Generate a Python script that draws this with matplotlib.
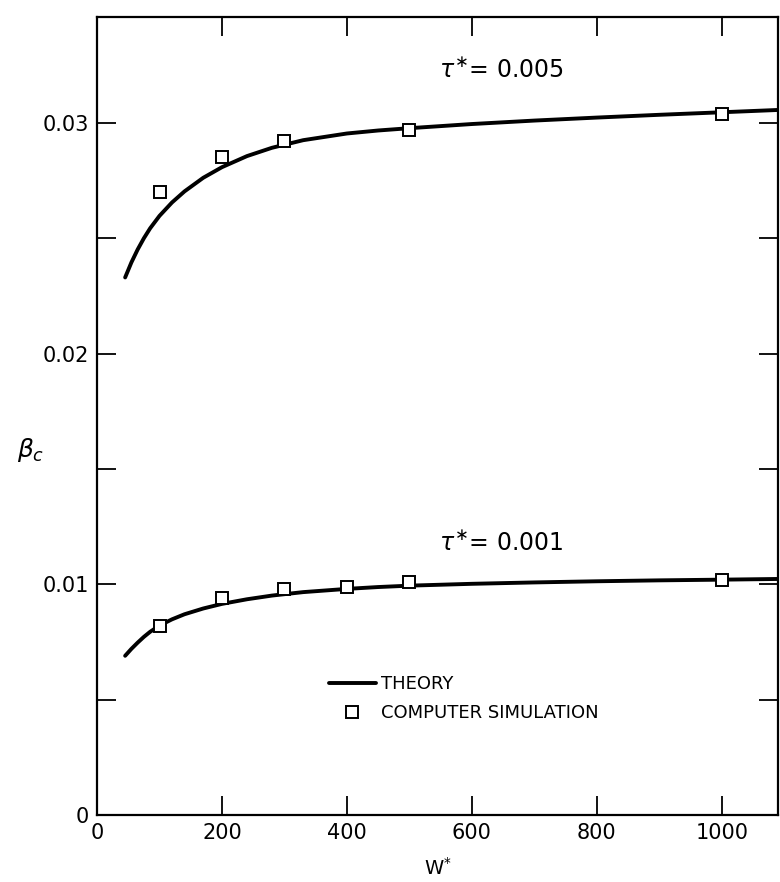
import matplotlib
matplotlib.use("Agg")
import matplotlib.pyplot as plt
from matplotlib.lines import Line2D

plt.rcParams['font.family'] = ['DejaVu Sans']
plt.rcParams['mathtext.fontset'] = 'dejavusans'

# Theory curves (critical beta vs W*)
w_theory = [45, 55, 65, 75, 85, 100, 120, 140, 170, 200, 240, 280, 330,
            400, 450, 500, 600, 700, 800, 900, 1000, 1090]
beta_theory_005 = [0.0233, 0.02395, 0.02451, 0.02500, 0.02543, 0.02597,
                   0.02655, 0.02703, 0.02762, 0.02808, 0.02856, 0.02892,
                   0.02925, 0.02954, 0.02967, 0.02977, 0.02995, 0.03010,
                   0.03023, 0.03035, 0.03046, 0.03056]
beta_theory_001 = [0.0069, 0.0072, 0.00747, 0.00772, 0.00794, 0.00821,
                   0.00848, 0.00870, 0.00895, 0.00915, 0.00935, 0.00951,
                   0.00966, 0.00980, 0.00988, 0.00994, 0.01002, 0.01008,
                   0.01013, 0.01017, 0.01020, 0.01023]

# Computer simulation results
w_sim_005 = [100, 200, 300, 500, 1000]
beta_sim_005 = [0.0270, 0.0285, 0.0292, 0.0297, 0.0304]
w_sim_001 = [100, 200, 300, 400, 500, 1000]
beta_sim_001 = [0.0082, 0.0094, 0.0098, 0.0099, 0.0101, 0.0102]

x_ticks = [0, 200, 400, 600, 800, 1000]
x_tick_labels = ['0', '200', '400', '600', '800', '1000']
y_ticks = [0, 0.005, 0.01, 0.015, 0.02, 0.025, 0.03]
y_tick_labels = ['0', '', '0.01', '', '0.02', '', '0.03']

curve_labels = [r'$\tau^{\ast}$= 0.005', r'$\tau^{\ast}$= 0.001']

fig = plt.figure(figsize=(7.8, 8.82), dpi=100)
ax = fig.add_axes([0.1244, 0.076, 0.873, 0.905])

line_kw = dict(color='black', lw=2.8, solid_capstyle='round',
               solid_joinstyle='round')
mark_kw = dict(ls='none', marker='s', ms=8.5, mfc='white', mec='black', mew=1.4)

ax.plot(w_theory, beta_theory_005, **line_kw)
ax.plot(w_theory, beta_theory_001, **line_kw)
ax.plot(w_sim_005, beta_sim_005, **mark_kw, zorder=3)
ax.plot(w_sim_001, beta_sim_001, **mark_kw, zorder=3)

ax.set_xlim(0, 1090)
ax.set_ylim(0, 0.0346)

ax.set_xticks(x_ticks)
ax.set_xticklabels(x_tick_labels)
ax.set_yticks(y_ticks)
ax.set_yticklabels(y_tick_labels)

ax.tick_params(axis='both', direction='in', length=14, width=1.3,
               labelsize=15, top=True, right=True, pad=6)
for s in ax.spines.values():
    s.set_linewidth(1.6)

ax.text(548, 0.0323, curve_labels[0], fontsize=17, ha='left', va='center')
ax.text(548, 0.0118, curve_labels[1], fontsize=17, ha='left', va='center')

ax.text(-0.098, 0.457, r'$\beta_c$', transform=ax.transAxes, fontsize=18,
        ha='center', va='center')
ax.set_xlabel(r'W$^{*}$', fontsize=14, labelpad=10)

handles = [Line2D([], [], **line_kw),
           Line2D([], [], **mark_kw)]
ax.legend(handles, ['THEORY', 'COMPUTER SIMULATION'], frameon=False,
          loc='upper left', bbox_to_anchor=(0.33, 0.184),
          fontsize=13, handlelength=2.6, handletextpad=0.3,
          labelspacing=0.6, borderaxespad=0)

fig.savefig('out.png', dpi=100)
